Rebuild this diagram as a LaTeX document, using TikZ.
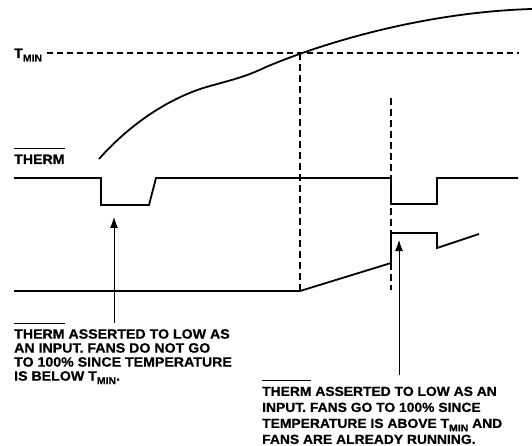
\documentclass[tikz,border=0pt]{standalone}
\usepackage{fontspec}
\setmainfont{Liberation Sans}[BoldFont={Liberation Sans Bold}, BoldFeatures={FakeStretch=1.05, FakeBold=0.6}]
\usetikzlibrary{arrows.meta}
\newcommand\ovbar[1]{\setbox0\hbox{#1}\rlap{\smash{\raisebox{\dimexpr\ht0+5.5pt\relax}{\rule{\wd0}{1pt}}}}\box0}
\newcommand\lowsub[1]{\raisebox{-3.5pt}{\fontsize{10}{10}\selectfont\bfseries #1}}
\tikzset{
  wave/.style={line width=1.8pt, line join=miter},
  guide/.style={line width=1.1pt, dash pattern=on 6pt off 4pt},
  vguide/.style={line width=1.1pt, dash pattern=on 7pt off 4pt},
  pointer/.style={line width=0.9pt, -{Latex[length=11pt,width=8pt]}},
  lbl/.style={inner sep=0pt, font=\fontsize{13.5}{14}\selectfont\bfseries},
  note/.style={inner sep=0pt, align=left, anchor=north west},
}
\begin{document}
\begin{tikzpicture}[x=1pt,y=-1pt]
\useasboundingbox (0,0) rectangle (532,446);
% labels
\node[lbl, anchor=base west] (tmin) at (14,58) {T\lowsub{MIN}};
\node[lbl, anchor=base west] (therm) at (14,164) {\ovbar{THERM}};
% Tmin guide
\coordinate (g0) at (47,53);
\coordinate (g1) at (519,53);
\draw[guide] (g0) -- (g1);
% vertical guides
\coordinate (v1t) at (300,53);
\coordinate (v1b) at (300,290);
\coordinate (v2t) at (391,98);
\coordinate (v2b) at (391,290);
\draw[vguide] (v1t) -- (v1b);
\draw[vguide] (v2t) -- (v2b);
% temperature curve
\draw[wave, line cap=butt] (99,159) .. controls (130,124) and (170,97) .. (210,86)
  .. controls (235,79) and (245,77) .. (266,67)
  .. controls (330,40) and (430,12) .. (532,9);
% THERM waveform
\draw[wave] (14,178) -- (101,178) -- (101,205) -- (149,205) -- (156,178) -- (391,178) -- (391,204) -- (437,204) -- (437,178) -- (518,178);
% fan speed waveform
\draw[wave] (14,291) -- (300,291) -- (391,263) -- (391,233) -- (437,233) -- (437,248) -- (479,234);
% notes
\node[lbl, note, font=\fontsize{13.5}{14}\selectfont\bfseries] (n1) at (14,329) {\ovbar{THERM}\ ASSERTED TO LOW AS\\AN INPUT. FANS DO NOT GO\\TO 100\% SINCE TEMPERATURE\\IS BELOW T\lowsub{MIN}.};
\node[lbl, note, font=\fontsize{13.2}{16}\selectfont\bfseries] (n2) at (262,386.5) {\ovbar{THERM}\ ASSERTED TO LOW AS AN\\INPUT. FANS GO TO 100\% SINCE\\TEMPERATURE IS ABOVE T\lowsub{MIN} AND\\FANS ARE ALREADY RUNNING.};
% pointers
\coordinate (a1s) at (114,323);
\coordinate (a1e) at (114,217);
\coordinate (a2s) at (399,375);
\coordinate (a2e) at (399,240);
\draw[pointer] (a1s) -- (a1e);
\draw[pointer] (a2s) -- (a2e);
\end{tikzpicture}
\end{document}
